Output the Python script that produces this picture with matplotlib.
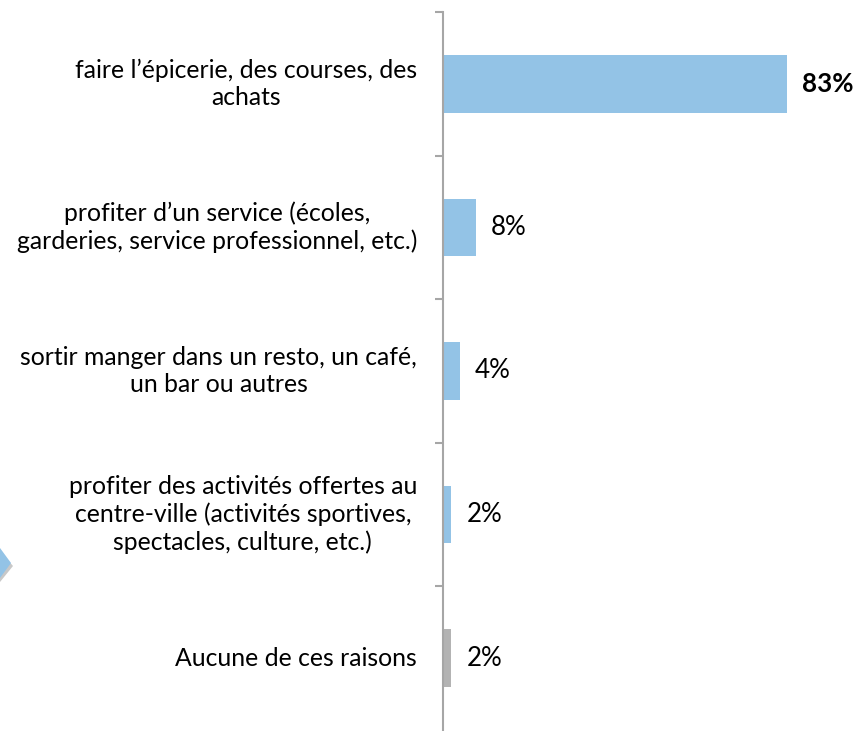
import matplotlib
matplotlib.use("Agg")
import matplotlib.pyplot as plt
from matplotlib.patches import Polygon

categories = [
    "faire l\u2019\u00e9picerie, des courses, des\nachats",
    "profiter d\u2019un service (\u00e9coles,\ngarderies, service professionnel, etc.)",
    "sortir manger dans un resto, un caf\u00e9,\nun bar ou autres",
    "profiter des activit\u00e9s offertes au\ncentre-ville (activit\u00e9s sportives,\nspectacles, culture, etc.)",
    "Aucune de ces raisons",
]
values = [83, 8, 4, 2, 2]
value_labels = ["83%", "8%", "4%", "2%", "2%"]
bold_flags = [True, False, False, False, False]
colors = ["#93C3E6", "#93C3E6", "#93C3E6", "#93C3E6", "#B3B3B3"]

W, H = 857, 731
fig = plt.figure(figsize=(W / 100, H / 100), dpi=100)
ax_left, ax_top, ax_bottom, ax_right = 443, 12, 730, 857
ax = fig.add_axes([ax_left / W, 1 - ax_bottom / H, (ax_right - ax_left) / W, (ax_bottom - ax_top) / H])

n = len(categories)
ypos = list(range(n))
ax.barh(ypos, values, height=0.40, color=colors, zorder=2)
ax.set_ylim(n - 0.5, -0.5)
ax.set_xlim(0, 99.8)

for s in ["top", "right", "bottom"]:
    ax.spines[s].set_visible(False)
ax.spines["left"].set_color("#A6A6A6")
ax.spines["left"].set_linewidth(1.5)
ax.set_xticks([])

# minor ticks at category boundaries
ax.set_yticks([i - 0.5 for i in range(n)], minor=True)
ax.tick_params(axis="y", which="minor", length=6, width=1.5, color="#A6A6A6", direction="out")
ax.set_yticks(ypos)
ax.set_yticklabels([])
ax.tick_params(axis="y", which="major", length=0)

fam = ["Lato", "DejaVu Sans"]
for i, lab in enumerate(categories):
    ax.annotate(lab, xy=(0, i), xycoords=("axes fraction", "data"),
                xytext=(-26, 0), textcoords="offset pixels",
                ha="right", va="center", multialignment="center",
                fontsize=17.8, family=fam, color="#000000", linespacing=1.22)

for i, (v, t, b) in enumerate(zip(values, value_labels, bold_flags)):
    ax.annotate(t, xy=(v, i), xytext=(15, 0), textcoords="offset pixels",
                ha="left", va="center", fontsize=18.7, family=fam,
                fontweight="bold" if b else "normal", color="#000000")

# decorative arrow fragment at left edge
def px(x, y):
    return (x / W, 1 - y / H)
shadow = Polygon([px(0, 551), px(13, 566), px(0, 582)], closed=True,
                 transform=fig.transFigure, facecolor="#C8C8C8", edgecolor="none")
arrow = Polygon([px(0, 548), px(11, 563), px(0, 578)], closed=True,
                transform=fig.transFigure, facecolor="#93C3E6", edgecolor="none")
fig.patches.extend([shadow, arrow])

fig.savefig("out.png", dpi=100, facecolor="white")
